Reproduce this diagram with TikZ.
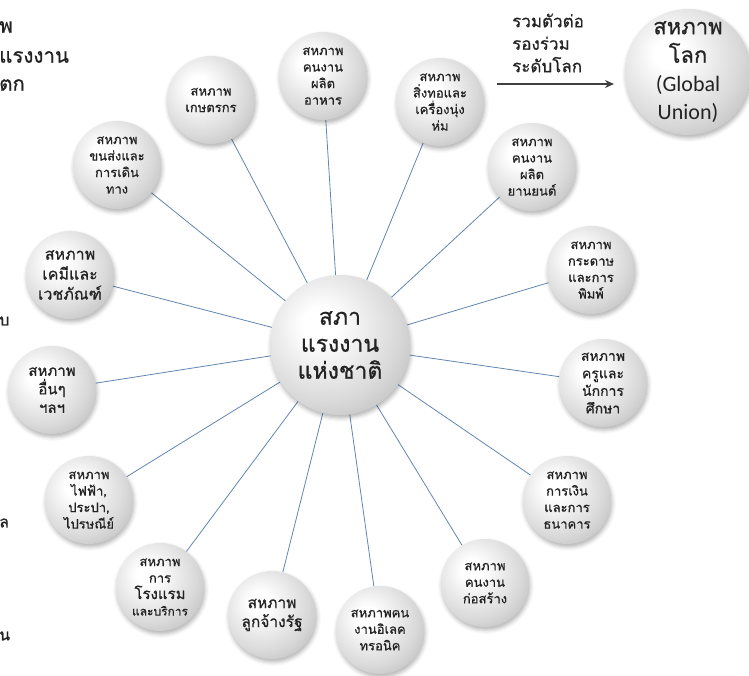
\documentclass[tikz,border=0pt]{standalone}
\usepackage{fontspec}
\setmainfont{Carlito}
\newfontfamily\thai[Script=Thai,FakeBold=0.7]{Loma}
\usetikzlibrary{shadows.blur,backgrounds,arrows.meta}
\definecolor{spokeblue}{RGB}{98,134,178}
\definecolor{txt}{RGB}{35,35,35}
\pgfdeclareradialshading{ballshade}{\pgfpoint{-8bp}{8bp}}{color(0bp)=(white); color(6bp)=(white); color(26bp)=(black!15); color(44bp)=(black!33); color(56bp)=(black!44); color(80bp)=(black!44)}
\tikzset{
  ball/.style={circle, inner sep=0pt, minimum size=#1, shading=ballshade,
    blur shadow={shadow xshift=1pt, shadow yshift=-3pt, shadow blur radius=4pt, shadow opacity=30},
    align=center, text=txt, font=\thai\fontsize{13}{16.5}\selectfont},
  ball/.default=88pt,
  spoke/.style={draw=spokeblue, line width=0.8pt},
  frag/.style={anchor=west, inner sep=0pt, text=txt, font=\thai\fontsize{20.5}{28}\selectfont},
  bigtxt/.style={font=\thai\fontsize{23}{27}\selectfont},
}
\begin{document}
\begin{tikzpicture}[x=1pt,y=-1pt]
\useasboundingbox (0,0) rectangle (749,676);
% fragments at left edge
\node[frag] (f1) at (-1,27) {พ};
\node[frag] (f2) at (-1,57) {แรงงาน};
\node[frag] (f3) at (-1,85) {ตก};
\node[frag, font=\thai\fontsize{16}{20}\selectfont] (f4) at (-1,321) {บ};
\node[frag, font=\thai\fontsize{16}{20}\selectfont] (f5) at (-1,523) {ล};
\node[frag, font=\thai\fontsize{16}{20}\selectfont] (f6) at (-1,636) {น};

% centre
\node[ball=140pt, bigtxt] (c) at (340,345) {สภา\\แรงงาน\\แห่งชาติ};

% satellites
\node[ball] (s1) at (211,100) {สหภาพ\\เกษตรกร};
\node[ball] (s2) at (323,76) {สหภาพ\\คนงาน\\ผลิต\\อาหาร};
\node[ball] (s3) at (440,102) {สหภาพ\\สิ่งทอและ\\เครื่องนุ่ง\\ห่ม};
\node[ball] (s4) at (532,167) {สหภาพ\\คนงาน\\ผลิต\\ยานยนต์};
\node[ball] (s5) at (591,270) {สหภาพ\\กระดาษ\\และการ\\พิมพ์};
\node[ball, font=\thai\fontsize{14}{17.5}\selectfont] (s6) at (603,383) {สหภาพ\\ครูและ\\นักการ\\ศึกษา};
\node[ball] (s7) at (567,500) {สหภาพ\\การเงิน\\และการ\\ธนาคาร};
\node[ball] (s8) at (485,583) {สหภาพ\\คนงาน\\ก่อสร้าง};
\node[ball] (s9) at (380,630) {สหภาพคน\\งานอิเลค\\ทรอนิค};
\node[ball, font=\thai\fontsize{15.5}{19}\selectfont] (s10) at (272,615) {สหภาพ\\ลูกจ้างรัฐ};
\node[ball] (s11) at (160,587) {สหภาพ\\การ\\{\fontsize{15}{17}\selectfont โรงแรม}\\{\fontsize{12}{15}\selectfont และบริการ}};
\node[ball] (s12) at (89,500) {สหภาพ\\ไฟฟ้า,\\ประปา,\\ไปรษณีย์};
\node[ball, font=\thai\fontsize{15}{18.5}\selectfont] (s13) at (52,390) {สหภาพ\\อื่นๆ\\ฯลฯ};
\node[ball, font=\thai\fontsize{16}{20}\selectfont] (s14) at (70,275) {สหภาพ\\เคมีและ\\เวชภัณฑ์};
\node[ball] (s15) at (117,165) {สหภาพ\\ขนส่งและ\\การเดิน\\ทาง};

% global union
\node[ball=126pt, font=\thai\fontsize{22}{28.5}\selectfont] (g) at (688,72) {สหภาพ\\โลก\\{\normalfont\fontsize{22}{28.5}\selectfont (Global}\\{\normalfont\fontsize{22}{28.5}\selectfont Union)}};

% arrow and its label
\coordinate (a0) at (497,84);
\coordinate (a1) at (614,84);
\draw[line width=1.6pt, draw=black!75, -{Stealth[length=9pt,width=8pt]}] (a0) -- (a1);
\node[anchor=west, align=left, inner sep=0pt, text=txt, font=\thai\fontsize{17}{22.5}\selectfont] (lab) at (512,43) {รวมตัวต่อ\\รองร่วม\\ระดับโลก};

% spokes
\begin{scope}[on background layer]
\foreach \s in {s1,s2,s3,s4,s5,s6,s7,s8,s9,s10,s11,s12,s13,s14,s15}
  \draw[spoke] (c) -- (\s);
\end{scope}
\end{tikzpicture}
\end{document}
